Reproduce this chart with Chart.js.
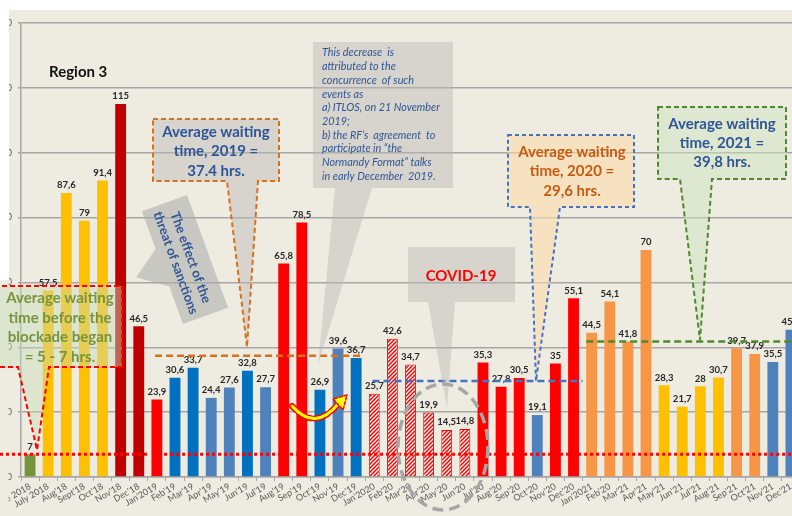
<!DOCTYPE html>
<html>
<head>
<meta charset="utf-8">
<script src="https://cdn.jsdelivr.net/npm/chart.js@4.4.1/dist/chart.umd.min.js"></script>
<style>
  html, body { margin: 0; padding: 0; background: #fff; overflow: hidden; width: 792px; height: 516px; }
  canvas { display: block; }
</style>
</head>
<body>
<canvas id="c" width="800" height="516" style="width:800px;height:516px"></canvas>
<script>
// Region 3 — monthly average waiting time, hours
const months = ["June 2018", "July 2018", "Aug'18", "Sept'18", "Oct'18", "Nov'18", "Dec'18",
  "Jan'2019", "Feb'19", "Mar'19", "Apr'19", "May'19", "Jun'19", "Jul'19", "Aug'19", "Sep'19", "Oct'19", "Nov'19", "Dec'19",
  "Jan'2020", "Feb'20", "Mar'20", "Apr'20", "May'20", "Jun'20", "Jul'20", "Aug'20", "Sep'20", "Oct'20", "Nov'20", "Dec'20",
  "Jan'2021", "Feb'20", "Mar'21", "Apr'21", "May'21", "Jun'21", "Jul'21", "Aug'21", "Sep'21", "Oct'21", "Nov'21", "Dec'21"];
const waitHours = [7, 57.5, 87.6, 79, 91.4, 115, 46.5,
  23.9, 30.6, 33.7, 24.4, 27.6, 32.8, 27.7, 65.8, 78.5, 26.9, 39.6, 36.7,
  25.7, 42.6, 34.7, 19.9, 14.5, 14.8, 35.3, 27.8, 30.5, 19.1, 35, 55.1,
  44.5, 54.1, 41.8, 70, 28.3, 21.7, 28, 30.7, 39.7, 37.9, 35.5, 45.4];
const yTicks = [0, 20, 40, 60, 80, 100, 120, 140];
// yearly average lines: level and span in category index units
const avgLevels = [37.4, 29.6, 41.8];
const avgFrom = [6.9, 18.9, 30.7];
const avgTo = [18.3, 30.5, 43];
const blockadeLevel = 7;

// bar colour groups
const G = "#77933C", Y = "#FFC000", DR = "#C00000", R = "#FF0000", B = "#0070C0", LB = "#4F81BD", O = "#F79646", H = "hatch";
const barKinds = [G, Y, Y, Y, Y, DR, DR,
  R, B, B, LB, LB, B, LB, R, R, B, LB, B,
  H, H, H, H, H, H, R, R, R, LB, R, R,
  O, O, O, O, Y, Y, Y, Y, O, O, LB, LB];

function hatch() {
  const p = document.createElement("canvas");
  p.width = p.height = 4;
  const g = p.getContext("2d");
  g.fillStyle = "#FF0000"; g.fillRect(0, 0, 4, 4);
  g.strokeStyle = "#fff"; g.lineWidth = 1.3;
  g.beginPath();
  g.moveTo(0, 4); g.lineTo(4, 0);
  g.moveTo(-1, 1); g.lineTo(1, -1);
  g.moveTo(3, 5); g.lineTo(5, 3);
  g.stroke();
  return g.createPattern(p, "repeat");
}
const hatchFill = hatch();

Chart.defaults.font.family = "Lato, 'Open Sans', sans-serif";

function poly(ctx, pts) {
  ctx.beginPath();
  pts.forEach(([x, y], i) => (i ? ctx.lineTo(x, y) : ctx.moveTo(x, y)));
  ctx.closePath();
}

function callout(ctx, o) {
  const [x1, y1, x2, y2] = o.box;
  const pts = [[x1, y1], [x2, y1], [x2, y2]];
  if (o.tail) { const [b1, b2, tx, ty] = o.tail; pts.push([b2, y2], [tx, ty], [b1, y2]); }
  pts.push([x1, y2]);
  poly(ctx, pts);
  ctx.fillStyle = o.fill; ctx.fill();
  if (o.stroke) {
    ctx.setLineDash(o.dash || [5, 3]); ctx.lineWidth = 2; ctx.strokeStyle = o.stroke; ctx.stroke(); ctx.setLineDash([]);
  }
  ctx.fillStyle = o.color; ctx.font = o.font; ctx.textAlign = o.align || "center"; ctx.textBaseline = "middle";
  o.lines.forEach((t, i) => ctx.fillText(t, o.tx, o.ty + i * o.lh));
}

const overlay = {
  id: "overlay",
  beforeDraw(chart) {
    const ctx = chart.ctx;
    ctx.save(); ctx.fillStyle = "#EEECE1"; ctx.fillRect(0, 0, chart.width, chart.height); ctx.restore();
  },
  afterDatasetsDraw(chart) {
    const ctx = chart.ctx, xs = chart.scales.x, ys = chart.scales.y;
    const xAt = (i) => xs.getPixelForValue(0) + i * (xs.getPixelForValue(1) - xs.getPixelForValue(0));
    ctx.save();

    // cropped left / top edge of the original picture
    ctx.fillStyle = "#fff"; ctx.fillRect(0, 0, chart.width, 10); ctx.fillRect(0, 0, 9, 280);
    ctx.fillStyle = "#EEECE1"; ctx.fillRect(0, 280, 8.5, 236);

    // value labels
    ctx.font = "bold 9.5px Lato"; ctx.fillStyle = "#262626"; ctx.textAlign = "center"; ctx.textBaseline = "bottom";
    chart.getDatasetMeta(0).data.forEach((bar, i) => {
      ctx.fillText(String(waitHours[i]).replace(".", ","), bar.x, bar.y - 3);
    });

    // blockade level (red dotted)
    const yb = ys.getPixelForValue(blockadeLevel);
    ctx.strokeStyle = "#FF0000"; ctx.lineWidth = 3; ctx.setLineDash([3, 3]);
    ctx.beginPath(); ctx.moveTo(0, yb); ctx.lineTo(xAt(6.6), yb); ctx.moveTo(xAt(7.4), yb); ctx.lineTo(chart.width, yb); ctx.stroke();

    // yearly averages
    const avgColors = ["#D9711C", "#4472C4", "#4E8A2E"];
    avgLevels.forEach((v, k) => {
      const y = ys.getPixelForValue(v);
      ctx.strokeStyle = avgColors[k]; ctx.lineWidth = 2.5; ctx.setLineDash([7, 4]);
      ctx.beginPath(); ctx.moveTo(xAt(avgFrom[k]), y); ctx.lineTo(xAt(avgTo[k]), y); ctx.stroke();
    });
    ctx.setLineDash([]);

    ctx.font = "bold 15px Lato"; ctx.fillStyle = "#111"; ctx.textAlign = "left"; ctx.textBaseline = "middle";
    ctx.fillText("Region 3", 49, 72);

    const grey = "rgba(185,185,180,0.45)";
    const boxFont = "bold 15px Lato";

    callout(ctx, { box: [-6, 286, 122, 367], tail: [18, 49, 37, 450], fill: "rgba(200,222,185,0.45)", stroke: "#FF0000", dash: [5, 3],
      lines: ["Average waiting", "time before the", "blockade began", "= 5 - 7 hrs."], font: boxFont, color: "#77933C", tx: 60, ty: 298, lh: 19.7 });

    callout(ctx, { box: [153, 119, 279, 181], tail: [227, 258, 247, 347], fill: grey, stroke: "#D9711C", dash: [5, 3],
      lines: ["Average waiting", "time, 2019 =", "37.4 hrs."], font: boxFont, color: "#2F5597", tx: 216, ty: 132, lh: 19.5 });

    // "effect of sanctions" block arrow
    ctx.save();
    ctx.translate(185, 259.5); ctx.rotate(70 * Math.PI / 180);
    poly(ctx, [[-60, -24], [60, -24], [60, 24], [20, 24], [0, 52], [-20, 24], [-60, 24]]);
    ctx.fillStyle = "rgba(170,170,168,0.55)"; ctx.fill();
    ctx.font = "bold 13px Lato"; ctx.fillStyle = "#2F5597"; ctx.textAlign = "center"; ctx.textBaseline = "middle";
    ctx.fillText("The effect of the", 0, -6);
    ctx.fillText("threat of sanctions", 0, 10);
    ctx.restore();

    callout(ctx, { box: [313, 42, 453, 188], tail: [335, 372, 318, 365], fill: grey,
      lines: ["This decrease  is", "attributed to the", "concurrence  of such", "events as", "a) ITLOS, on 21 November", "2019;",
        "b) the RF\u2019s  agreement  to", "participate in \u201cthe", "Normandy Format\u201d talks", "in early December  2019."],
      font: "italic 10.8px Lato", color: "#2F5597", align: "left", tx: 322, ty: 53, lh: 13.7 });

    callout(ctx, { box: [408, 247, 515, 302], tail: [428, 455, 447, 408], fill: grey,
      lines: ["COVID-19"], font: "bold 15px Lato", color: "#FF0000", tx: 461, ty: 276, lh: 0 });

    callout(ctx, { box: [508, 135, 634, 207], tail: [530, 560, 536, 381], fill: "rgba(252,220,170,0.6)", stroke: "#4472C4", dash: [4, 3],
      lines: ["Average waiting", "time, 2020 =", "29,6 hrs."], font: boxFont, color: "#C55A11", tx: 572, ty: 152, lh: 19.5 });

    callout(ctx, { box: [658, 107, 786, 179], tail: [680, 712, 700, 340], fill: "rgba(205,225,190,0.5)", stroke: "#4E8A2E", dash: [5, 3],
      lines: ["Average waiting", "time, 2021 =", "39,8 hrs."], font: boxFont, color: "#2F5597", tx: 722, ty: 124, lh: 19.2 });

    // dashed ring around the lockdown months
    ctx.strokeStyle = "#A6A6A6"; ctx.lineWidth = 3.5; ctx.setLineDash([11, 6]);
    ctx.beginPath(); ctx.ellipse(443, 447, 45, 63, 0, 0, Math.PI * 2); ctx.stroke();

    // curved yellow arrow
    ctx.lineCap = "round";
    ctx.strokeStyle = "#FF0000"; ctx.lineWidth = 6; ctx.setLineDash([5, 4]);
    ctx.beginPath(); ctx.moveTo(292, 406); ctx.quadraticCurveTo(315, 432, 338, 404); ctx.stroke();
    ctx.setLineDash([]);
    ctx.strokeStyle = "#FFFF00"; ctx.lineWidth = 3;
    ctx.beginPath(); ctx.moveTo(292, 406); ctx.quadraticCurveTo(315, 432, 338, 404); ctx.stroke();
    poly(ctx, [[347, 395], [333, 399], [343, 410]]);
    ctx.fillStyle = "#FFFF00"; ctx.fill();
    ctx.strokeStyle = "#FF0000"; ctx.lineWidth = 1.5; ctx.setLineDash([3, 2]); ctx.stroke();

    ctx.restore();
  },
};

new Chart(document.getElementById("c"), {
  type: "bar",
  data: {
    labels: months,
    datasets: [{
      data: waitHours,
      backgroundColor: barKinds.map((k) => (k === H ? hatchFill : k)),
      borderColor: "#FF0000",
      borderWidth: barKinds.map((k) => (k === H ? 1 : 0)),
      barPercentage: 0.6,
      categoryPercentage: 1,
    }],
  },
  options: {
    responsive: false,
    animation: false,
    layout: { padding: { top: 23, left: 0, right: 0, bottom: 0 } },
    plugins: { legend: { display: false }, tooltip: { enabled: false } },
    scales: {
      x: {
        grid: { display: true, drawOnChartArea: false, tickLength: 4, color: "#A6A6A6" },
        border: { color: "#A6A6A6", width: 1.5 },
        ticks: { autoSkip: false, maxRotation: 30, minRotation: 30, padding: 0, color: "#595959", font: { size: 9 } },
        afterFit(s) { s.height = 39; s.paddingLeft = 0; s.paddingRight = 0; },
      },
      y: {
        min: 0, max: 140,
        afterBuildTicks(s) { s.ticks = yTicks.map((v) => ({ value: v })); },
        grid: { color: "#A6A6A6", lineWidth: 1.5, tickLength: 3 },
        border: { color: "#A6A6A6", width: 1.5 },
        ticks: { padding: 6, color: "#595959", font: { size: 9 } },
        afterFit(s) { s.width = 21; },
      },
    },
  },
  plugins: [overlay],
});
</script>
</body>
</html>
